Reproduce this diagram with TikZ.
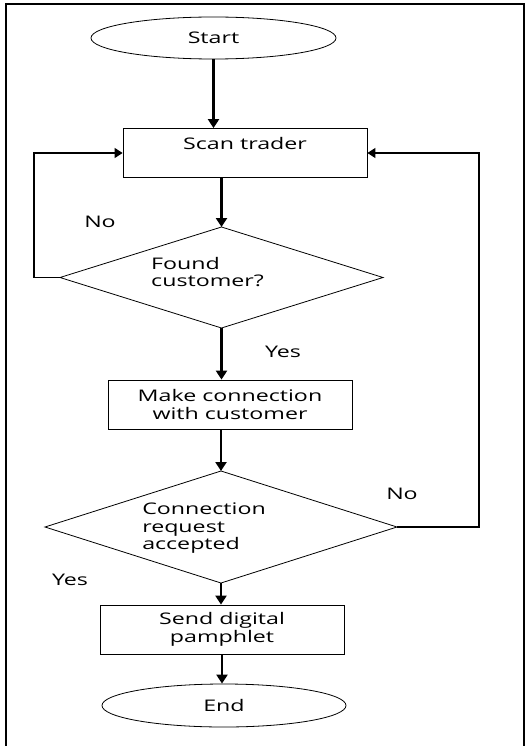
\documentclass[tikz,border=0pt]{standalone}
\usepackage{fontspec}
\setmainfont{Open Sans}[FakeStretch=1.45]
\usetikzlibrary{shapes.geometric}
\usetikzlibrary{arrows.meta}

\begin{document}
\begin{tikzpicture}[x=1pt,y=-1pt,
    every node/.style={font=\fontsize{16}{17.5}\selectfont},
    proc/.style={draw,line width=0.8pt,rectangle,minimum width=244pt,minimum height=49pt,align=center,inner sep=0pt},
    term/.style={draw,line width=0.8pt,ellipse,minimum width=245pt,minimum height=42pt,inner sep=0pt},
    decide/.style={draw,line width=0.8pt,diamond,inner sep=0pt,outer sep=0pt},
    flow/.style={line width=2.2pt,-{Triangle[width=11pt,length=9pt]}},
    back/.style={line width=1.2pt,-{Triangle[width=10pt,length=8pt]}}]

    % Page size and the outer frame
    \useasboundingbox (0,0) rectangle (528,746);
    \draw[line width=1.5pt] (6,746) -- (6,4) -- (524,4) -- (524,746);

    % Draw the blocks
    \node[term] (start) at (213.5,38) {Start};
    \node[proc,text height=11pt,text depth=18pt] (scan) at (245,153) {Scan trader};
    \node[decide,minimum width=323pt,minimum height=101pt] (found) at (221.5,277.5) {};
    \node[align=left] (foundtxt) at (207.5,272) {Found\\customer?};
    \node[proc] (connect) at (230,404.5) {Make connection\\with customer};
    \node[decide,minimum width=352pt,minimum height=112pt] (accepted) at (221,527) {};
    \node[align=left] (acceptedtxt) at (204,528.5) {Connection\\request\\accepted};
    \node[proc] (send) at (222,629.5) {Send digital\\pamphlet};
    \node[term,minimum width=244pt,minimum height=43pt] (finish) at (224,705.5) {End};

    % Draw the arrows
    \draw[flow] (start.south) -- (start.south |- scan.north);
    \draw[flow] (found.north |- scan.south) -- (found.north);
    \draw[flow] (found.south) -- (found.south |- connect.north);
    \draw[flow] (accepted.north |- connect.south) -- (accepted.north);
    \draw[flow] (accepted.south) -- (accepted.south |- send.north);
    \draw[flow] (send.south) -- (send.south |- finish.north);

    % Draw the loops back to the scan
    \draw[back] (found.west) -- ++(-26,0) |- (scan.west);
    \draw[back] (accepted.east) -- ++(82,0) |- (scan.east);

    % Answers
    \node (nofound) at (100,222) {No};
    \node (yesfound) at (283,352) {Yes};
    \node (noaccept) at (402,494) {No};
    \node (yesaccept) at (70,580) {Yes};
\end{tikzpicture}
\end{document}
